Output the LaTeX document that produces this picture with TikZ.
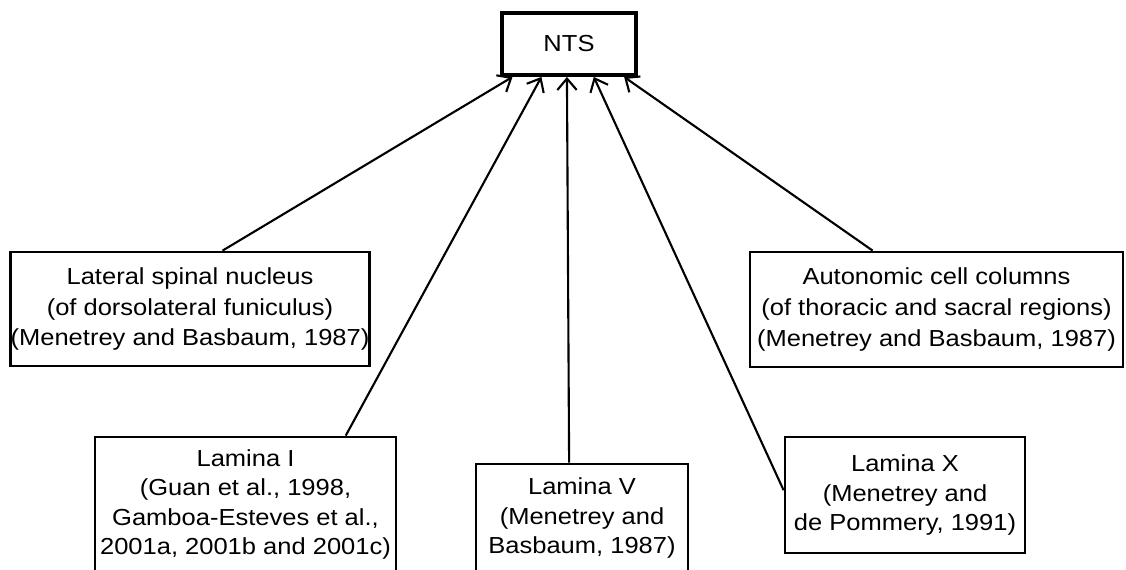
\documentclass[tikz,border=0pt]{standalone}
\usepackage{fontspec}
\setmainfont{Liberation Sans}[FakeStretch=1.1]
\usetikzlibrary{arrows.meta,calc}

\tikzset{
  srcbox/.style={draw, line width=1.6pt, inner sep=0pt, align=center,
    font=\fontsize{13.2}{16.8}\selectfont},
  link/.style={line width=1.2pt, -{Straight Barb[length=6.5pt,width=11pt,line width=1.2pt]}}
}

\begin{document}
\begin{tikzpicture}[x=0.02cm, y=-0.02cm]
\useasboundingbox (0,0) rectangle (1126,569);
\clip (0,0) rectangle (1126,569);

 % target
\node[srcbox, line width=2.2pt, minimum width=2.68cm, minimum height=1.24cm] (nts) at (569,44) {NTS};

 % upper row
\node[srcbox, font=\fontsize{13.2}{17.6}\selectfont, minimum width=7.16cm, minimum height=2.28cm] (lsn) at (190,309)
  {Lateral spinal nucleus\\(of dorsolateral funiculus)\\(Menetrey and Basbaum, 1987)};
\node[srcbox, font=\fontsize{13.2}{17.6}\selectfont, minimum width=7.46cm, minimum height=2.30cm] (acc) at (936.5,309.5)
  {Autonomic cell columns\\(of thoracic and sacral regions)\\(Menetrey and Basbaum, 1987)};

 % lower row
\node[srcbox, minimum width=6.02cm, minimum height=2.70cm] (lamI) at (245.5,504.5)
  {Lamina I\\(Guan et al., 1998,\\Gamboa-Esteves et al.,\\2001a, 2001b and 2001c)};
\node[srcbox, minimum width=4.24cm, minimum height=2.16cm] (lamV) at (582,518)
  {Lamina V\\(Menetrey and\\Basbaum, 1987)};
\node[srcbox, minimum width=4.80cm, minimum height=2.32cm] (lamX) at (905,495)
  {Lamina X\\(Menetrey and\\de Pommery, 1991)};

 % arrows
\draw[link] ($(lsn.north west)!0.59!(lsn.north east)$) -- ($(nts.south west)!0.09!(nts.south east)$);
\draw[link] ($(lamI.north west)!0.83!(lamI.north east)$) -- ($(nts.south west)!0.30!(nts.south east)$);
\draw[link] ($(lamV.north west)!0.44!(lamV.north east)$) -- ($(nts.south west)!0.485!(nts.south east)$);
\draw[link] ($(lamX.north west)!0.46!(lamX.south west)$) -- ($(nts.south west)!0.68!(nts.south east)$);
\draw[link] ($(acc.north west)!0.33!(acc.north east)$) -- ($(nts.south west)!0.90!(nts.south east)$);
\end{tikzpicture}
\end{document}
